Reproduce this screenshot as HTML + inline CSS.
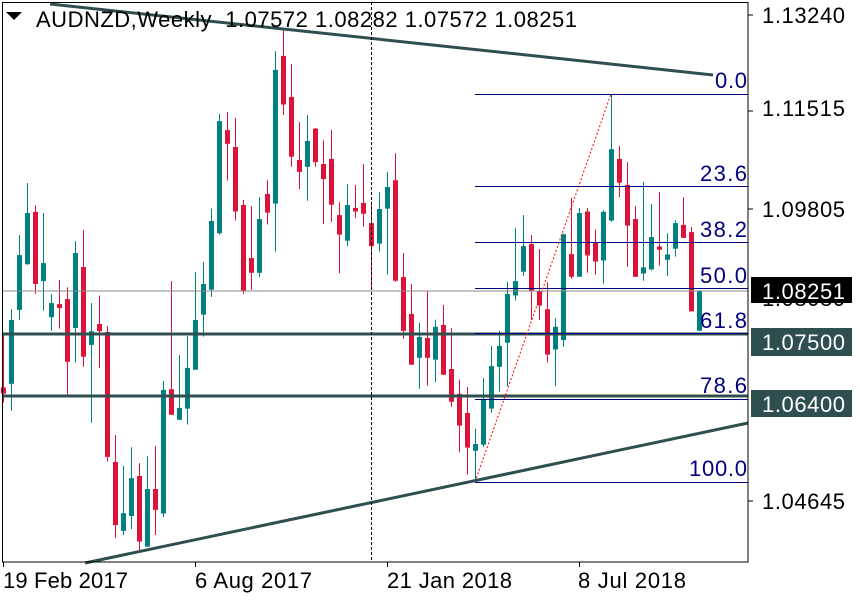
<!DOCTYPE html>
<html><head><meta charset="utf-8"><style>
html,body{margin:0;padding:0;background:#fff;}
svg{display:block;font-family:"Liberation Sans","DejaVu Sans",sans-serif;}
</style></head><body>
<svg id="s" width="860" height="600" viewBox="0 0 860 600" xmlns="http://www.w3.org/2000/svg">
<rect width="860" height="600" fill="#fff"/>
<g id="c"></g>
<line x1="2" y1="291" x2="748" y2="291" stroke="#8a8a8a" stroke-width="1"/>
<line x1="2" y1="334" x2="748" y2="334" stroke="#2f4f4f" stroke-width="3"/>
<line x1="2" y1="396" x2="748" y2="396" stroke="#2f4f4f" stroke-width="3"/>
<g stroke="#000080" stroke-width="1">
<line x1="475" y1="94.5" x2="748" y2="94.5"/>
<line x1="475" y1="186.5" x2="748" y2="186.5"/>
<line x1="475" y1="242.5" x2="748" y2="242.5"/>
<line x1="475" y1="288.5" x2="748" y2="288.5"/>
<line x1="475" y1="333.5" x2="748" y2="333.5"/>
<line x1="475" y1="399.5" x2="748" y2="399.5"/>
<line x1="475" y1="482.5" x2="748" y2="482.5"/>
</g>
<line x1="475" y1="482" x2="611" y2="94" stroke="#ff0000" stroke-width="1" stroke-dasharray="2,2"/>
<g fill="#000080" font-size="22">
<text x="715" y="88" textLength="32">0.0</text>
<text x="700" y="181" textLength="47">23.6</text>
<text x="700" y="237" textLength="47">38.2</text>
<text x="700" y="283" textLength="47">50.0</text>
<text x="700" y="328" textLength="47">61.8</text>
<text x="700" y="393" textLength="47">78.6</text>
<text x="689" y="476" textLength="58">100.0</text>
</g>
<line x1="50" y1="4" x2="713" y2="75" stroke="#2f4f4f" stroke-width="3"/>
<line x1="85" y1="563" x2="748" y2="423" stroke="#2f4f4f" stroke-width="3"/>
<line x1="371.5" y1="2" x2="371.5" y2="562" stroke="#000" stroke-width="1" stroke-dasharray="3,2"/>
<rect x="2.5" y="2.5" width="745.5" height="559.5" fill="none" stroke="#000" stroke-width="1"/>
<g stroke="#000"><line x1="3.5" y1="562" x2="3.5" y2="567"/><line x1="195.5" y1="562" x2="195.5" y2="567"/><line x1="387.5" y1="562" x2="387.5" y2="567"/><line x1="579.5" y1="562" x2="579.5" y2="567"/></g>
<g font-size="22" fill="#000">
<text x="3" y="588" textLength="125">19 Feb 2017</text>
<text x="195" y="588" textLength="117">6 Aug 2017</text>
<text x="387" y="588" textLength="125">21 Jan 2018</text>
<text x="578" y="588" textLength="108">8 Jul 2018</text>
</g>
<g stroke="#000"><line x1="748" y1="15" x2="753" y2="15"/><line x1="748" y1="111" x2="753" y2="111"/><line x1="748" y1="209" x2="753" y2="209"/><line x1="748" y1="501" x2="753" y2="501"/></g>
<g font-size="22" fill="#000">
<text x="762" y="23" textLength="83">1.13240</text>
<text x="762" y="116" textLength="83">1.11515</text>
<text x="762" y="217" textLength="83">1.09805</text>
<text x="762" y="306" textLength="83">1.08080</text>
<text x="762" y="509" textLength="83">1.04645</text>
</g>
<rect x="751" y="277" width="101" height="26" fill="#000"/>
<text x="762" y="299" font-size="22" fill="#fff" textLength="83">1.08251</text>
<rect x="751" y="328" width="101" height="28" fill="#2f4f4f"/>
<text x="762" y="350" font-size="22" fill="#fff" textLength="83">1.07500</text>
<rect x="751" y="390" width="101" height="27" fill="#2f4f4f"/>
<text x="762" y="412" font-size="22" fill="#fff" textLength="83">1.06400</text>
<polygon points="6,12 22,12 14,20" fill="#000"/>
<text x="36" y="27" font-size="22" fill="#000" textLength="541" xml:space="preserve">AUDNZD,Weekly  1.07572 1.08282 1.07572 1.08251</text>
</svg>
<script>
var d=[
['r',1075,1092,930,1117],['g',888,1065,858,1140],['g',708,860,652,888],['g',591,733,508,735],['r',588,788,570,815],['g',730,780,591,862],['g',841,880,816,918],['r',844,855,777,912],['r',830,1004,797,1097],['g',702,910,669,1006],['r',741,990,638,1018],['g',919,957,841,1173],['r',899,919,820,1021],['r',921,1268,905,1281],['r',1282,1457,1207,1493],['g',1424,1473,1293,1485],['g',1327,1432,1241,1468],['r',1321,1503,1285,1527],['g',1357,1517,1266,1517],['r',1357,1415,1238,1485],['g',1082,1425,1057,1435],['r',1080,1151,780,1151],['g',1132,1165,985,1165],['g',1021,1134,932,1178],
['g',888,1026,755,1026],['g',788,873,727,934],['g',613,804,579,824],['g',336,647,316,651],['r',361,399,311,501],['r',408,587,327,612],['r',569,808,555,815],['r',716,757,572,804],['g',608,757,547,769],['r',538,590,500,623],['g',194,565,142,698],['r',155,290,80,319],['r',269,435,178,463],['r',444,477,339,525],['g',391,463,319,557],['r',357,450,355,463],['r',455,497,390,622],['r',441,568,360,616],['r',597,651,561,758],['g',569,668,511,683],['r',577,587,513,605],['r',563,593,455,629],['r',619,683,560,798],
['g',580,676,533,698],['g',519,579,477,762],['r',500,779,425,782],['r',769,918,702,940],['r',871,1012,788,1012],['g',935,993,896,1079],['r',938,993,808,1070],['g',907,998,887,1061],['r',902,1040,846,1040],['r',1024,1115,910,1129],['r',1093,1181,1054,1255],['r',1146,1242,1074,1317],['g',1232,1251,1190,1335],['g',1107,1234,1049,1241],['g',1016,1134,960,1145],['g',960,1018,918,1087],['g',816,951,782,1072],['g',780,820,632,834],['g',683,754,597,766],['r',677,807,652,888],['r',808,848,691,888],['r',858,984,783,1006],['g',907,970,883,1072],
['g',650,944,648,962],['r',705,768,549,773],['g',591,768,578,768],['r',587,709,577,757],['r',673,726,637,762],['g',588,723,583,787],['g',414,612,263,615],['r',441,507,405,547],['r',513,626,450,740],['r',608,768,572,768],['g',742,759,505,779],['g',658,748,566,750],['r',684,693,533,737],['g',706,721,647,766],['g',619,690,611,712],['r',624,660,547,660],['r',644,864,630,864],['g',808,918,805,918]
];
var k=2.775,h='',col={r:'#dc143c',g:'#008080'};
d.forEach(function(c,i){
 var x=3+i*8,f=col[c[0]];
 var bt=c[1]/k,bb=c[2]/k,wt=c[3]/k,wb=c[4]/k;
 if(bb-bt<2)bb=bt+2;
 h+='<line x1="'+(x+0.5)+'" y1="'+wt.toFixed(1)+'" x2="'+(x+0.5)+'" y2="'+wb.toFixed(1)+'" stroke="'+f+'" stroke-width="1"/>';
 h+='<rect x="'+(x-2)+'" y="'+bt.toFixed(1)+'" width="5" height="'+(bb-bt).toFixed(1)+'" fill="'+f+'"/>';
});
document.getElementById('c').innerHTML=h;
</script>
</body></html>
